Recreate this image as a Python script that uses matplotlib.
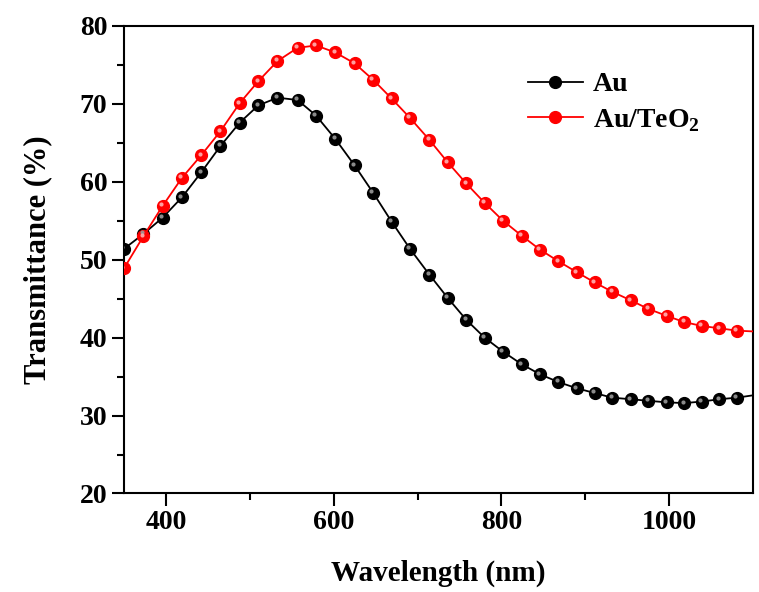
import matplotlib
matplotlib.use("Agg")
import matplotlib.pyplot as plt
from matplotlib.transforms import offset_copy

plt.rcParams['font.family'] = ['Liberation Serif', 'DejaVu Serif']
plt.rcParams['font.weight'] = 'bold'
plt.rcParams['mathtext.fontset'] = 'custom'
plt.rcParams['mathtext.rm'] = 'Liberation Serif:bold'
plt.rcParams['mathtext.bf'] = 'Liberation Serif:bold'

# wavelengths (nm); last value is a line-only end point at the axis edge
wavelength = [350, 373, 396, 419, 442, 465, 488, 510, 533, 557, 579, 602, 625,
              647, 669, 691, 714, 736, 758, 780, 802, 824, 846, 868, 890, 911,
              932, 954, 975, 997, 1018, 1039, 1060, 1081, 1100]

au = [51.4, 53.3, 55.4, 58.0, 61.2, 64.6, 67.6, 69.8, 70.8, 70.5, 68.5, 65.5,
      62.1, 58.6, 54.9, 51.4, 48.1, 45.1, 42.3, 40.0, 38.2, 36.6, 35.3, 34.3,
      33.5, 32.9, 32.3, 32.1, 31.9, 31.7, 31.6, 31.8, 32.1, 32.3, 32.6]

au_teo2 = [48.9, 53.0, 56.9, 60.5, 63.4, 66.5, 70.1, 72.9, 75.5, 77.2, 77.5,
           76.6, 75.2, 73.1, 70.7, 68.2, 65.4, 62.5, 59.8, 57.3, 55.0, 53.1,
           51.3, 49.8, 48.4, 47.1, 45.9, 44.8, 43.7, 42.8, 42.0, 41.5, 41.2,
           40.9, 40.8]

x_ticks = [400, 600, 800, 1000]
y_ticks = [20, 30, 40, 50, 60, 70, 80]

fig = plt.figure(figsize=(7.59, 5.92), dpi=100)
ax = fig.add_axes([0.1634, 0.1664, 0.8287, 0.7897])

n = len(wavelength) - 1
marks = list(range(n))

series = [(au, 'black', '#9a9a9a', 'Au'),
          (au_teo2, '#ff0000', '#ffb0b0', 'Au/TeO$_2$')]

for y, col, hl, lab in series:
    ax.plot(wavelength, y, color=col, lw=1.3, marker='o', ms=8.5,
            mec=col, mfc=col, markevery=marks, label=lab, zorder=3)
    tr = offset_copy(ax.transData, fig=fig, x=-1.6, y=1.6, units='dots')
    ax.plot(wavelength[:n], y[:n], ls='none', marker='o', ms=3.0,
            mfc=hl, mec='none', alpha=0.9, transform=tr, zorder=4)

ax.set_xlim(350, 1100)
ax.set_ylim(20, 80)
ax.set_xticks(x_ticks)
ax.set_yticks(y_ticks)
ax.set_xticks([500, 700, 900], minor=True)
ax.set_yticks([25, 35, 45, 55, 65, 75], minor=True)
ax.tick_params(which='major', direction='out', length=9, width=1.5,
               labelsize=20, pad=3)
ax.tick_params(which='minor', direction='out', length=5, width=1.5)
for s in ax.spines.values():
    s.set_linewidth(1.5)

ax.set_xlabel('Wavelength (nm)', fontsize=21, fontweight='bold', labelpad=18)
ax.set_ylabel('Transmittance (%)', fontsize=22, fontweight='bold', labelpad=20)

leg = ax.legend(loc='upper right', bbox_to_anchor=(0.955, 0.955), frameon=False,
                fontsize=20, handlelength=2.0, handletextpad=0.35,
                labelspacing=0.35)

fig.savefig('out.png', dpi=100)
